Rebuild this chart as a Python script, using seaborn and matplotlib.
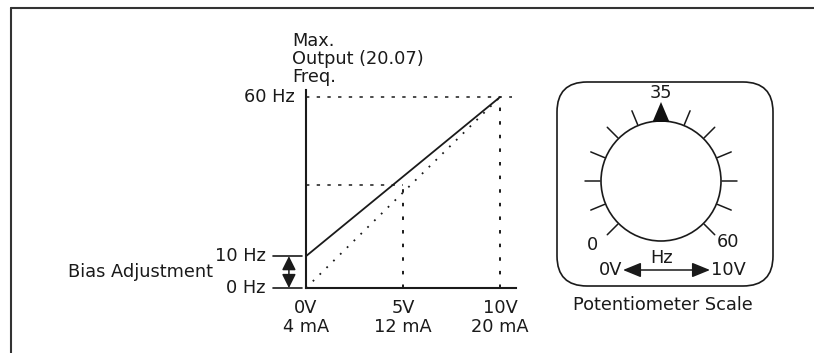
import matplotlib
matplotlib.use("Agg")
import matplotlib.pyplot as plt
import matplotlib.transforms as mtransforms
import numpy as np
import pandas as pd
import seaborn as sns
from matplotlib.lines import Line2D
from matplotlib.patches import Circle, FancyBboxPatch, Polygon

# values
volts = [0, 5, 10]
current_ma = [4, 12, 20]
freq_with_bias = [10, 35, 60]
freq_no_bias = [0, 30, 60]
bias_range = [0, 10]
max_hz = 60
mid_hz = 32.5
hz_ticks = [0, 10, 60]
hz_labels = ["0 Hz", "10 Hz", "60 Hz"]
dial_angles = [225, 202.5, 180, 157.5, 135, 112.5, 67.5, 45, 22.5, 0, -22.5, -45]
pointer_label = "35"
dial_ends = ["0", "60"]
volt_ends = ["0V", "10V"]

sns.set_theme(style="white")
plt.rcParams["font.family"] = ["DejaVu Sans"]

INK = "#1a1a1a"
FS = 12.8
W, H = 814, 353

fig = plt.figure(figsize=(W / 100, H / 100), dpi=100)

# ---- transfer curve ----
ax = fig.add_axes([306 / W, 1 - 288 / H, 210 / W, 198 / H])
df = pd.DataFrame({"volts": volts, "freq": freq_with_bias, "nobias": freq_no_bias})
sns.lineplot(data=df, x="volts", y="freq", color=INK, lw=1.3, ax=ax)
sns.lineplot(data=df, x="volts", y="nobias", color=INK, lw=1.3,
             linestyle=(0, (1.0, 4.3)), ax=ax)
ax.set_xlim(0, 10.82)
ax.set_ylim(0, 62.2)

dash = (0, (2.2, 4.8))
ax.axhline(max_hz, xmin=0, xmax=0.98, color=INK, lw=1.1, linestyle=dash, clip_on=False)
ax.hlines(mid_hz, 0, volts[1], color=INK, lw=1.1, linestyle=dash)
vdash = (0, (1.8, 5.2))
ax.vlines(volts[2], 0, max_hz, color=INK, lw=1.4, linestyle=vdash)
ax.vlines(volts[1], 0, mid_hz, color=INK, lw=1.4, linestyle=vdash)

sns.despine(ax=ax)
for side in ("left", "bottom"):
    ax.spines[side].set_linewidth(1.5)
    ax.spines[side].set_color(INK)
ax.set_xlabel("")
ax.set_ylabel("")
ax.set_yticks([])
ax.set_xticks(volts)
ax.set_xticklabels([f"{v}V\n{m} mA" for v, m in zip(volts, current_ma)],
                   fontsize=FS, color=INK, linespacing=1.05)
ax.tick_params(axis="x", length=0, pad=8)

ytrans = ax.get_yaxis_transform()
for hz, lab in zip(hz_ticks, hz_labels):
    off = -11 if hz == max_hz else -40
    t = mtransforms.offset_copy(ytrans, fig=fig, x=off, y=0, units="dots")
    ax.text(0, hz, lab, transform=t, ha="right", va="center", fontsize=FS, color=INK)
    if hz != max_hz:
        ax.plot([-1.7, -0.22], [hz, hz], color=INK, lw=1.2, clip_on=False)

ax.annotate("", xy=(-0.88, bias_range[1]), xytext=(-0.88, bias_range[0]),
            arrowprops=dict(arrowstyle="<|-|>,head_length=0.7,head_width=0.35",
                            color=INK, lw=1.1, shrinkA=0, shrinkB=0),
            annotation_clip=False)
ax.text(-4.8, np.mean(bias_range), "Bias Adjustment", ha="right", va="center",
        fontsize=FS, color=INK)
ax.text(-0.72, 63.3, "Max.\nOutput (20.07)\nFreq.", ha="left", va="bottom",
        fontsize=FS, color=INK, linespacing=1.0)

# ---- outer frame ----
fig.add_artist(Line2D([11 / W, 1], [1 - 8 / H, 1 - 8 / H], transform=fig.transFigure,
                      color="#333333", lw=1.5))
fig.add_artist(Line2D([11 / W, 11 / W], [0, 1 - 8 / H], transform=fig.transFigure,
                      color="#333333", lw=1.5))

# ---- potentiometer dial ----
ax2 = fig.add_axes([541 / W, 1 - 320 / H, 260 / W, 260 / H])
ax2.set_xlim(-120, 140)
ax2.set_ylim(-139, 121)
ax2.axis("off")

ax2.add_patch(FancyBboxPatch((-104, -105), 216, 204,
                             boxstyle="round,pad=0,rounding_size=30",
                             fc="none", ec=INK, lw=1.2))
ax2.add_patch(Circle((0, 0), 60, fc="none", ec=INK, lw=1.2))
for a in dial_angles:
    r = np.radians(a)
    ax2.plot([61 * np.cos(r), 76 * np.cos(r)], [61 * np.sin(r), 76 * np.sin(r)],
             color=INK, lw=1.1)
ax2.add_patch(Polygon([(-8.5, 59), (8.5, 59), (0, 79)], closed=True, fc="#111111", ec="none"))
ax2.text(0, 88, pointer_label, ha="center", va="center", fontsize=FS, color=INK)
ax2.text(-69, -64, dial_ends[0], ha="center", va="center", fontsize=FS, color=INK)
ax2.text(67, -61, dial_ends[1], ha="center", va="center", fontsize=FS, color=INK)
ax2.text(1, -77, "Hz", ha="center", va="center", fontsize=FS, color=INK)
ax2.annotate("", xy=(49, -89), xytext=(-38, -89),
             arrowprops=dict(arrowstyle="<|-|>,head_length=1.1,head_width=0.45",
                             mutation_scale=10, color=INK, lw=1.1,
                             shrinkA=0, shrinkB=0))
ax2.text(-39, -89, volt_ends[0], ha="right", va="center", fontsize=FS, color=INK)
ax2.text(50, -89, volt_ends[1], ha="left", va="center", fontsize=FS, color=INK)
ax2.text(2, -124, "Potentiometer Scale", ha="center", va="center", fontsize=FS, color=INK)

fig.savefig("out.png", dpi=100)
